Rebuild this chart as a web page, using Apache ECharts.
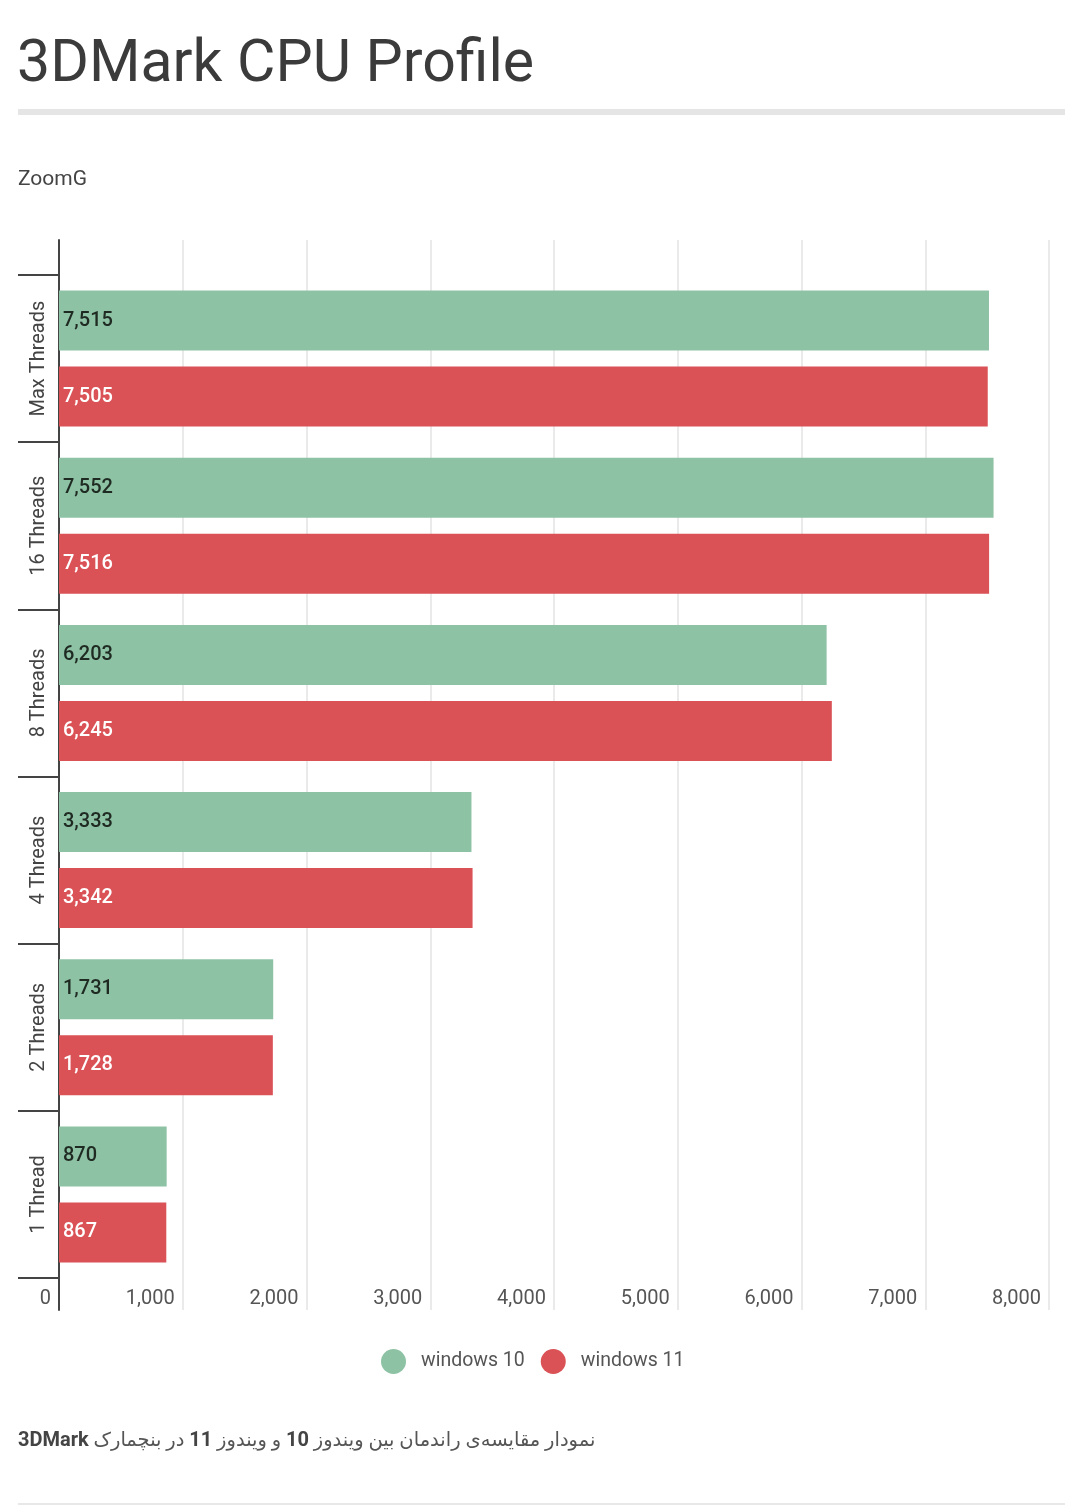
<!DOCTYPE html>
<html>
<head>
<meta charset="utf-8">
<script src="https://cdn.jsdelivr.net/npm/echarts@6/dist/echarts.min.js"></script>
<style>
html,body{margin:0;padding:0;background:#fff;}
#chart{width:1080px;height:1512px;}
</style>
</head>
<body>
<div id="chart"></div>
<script>
var categories = ['Max Threads', '16 Threads', '8 Threads', '4 Threads', '2 Threads', '1 Thread'];
var windows10 = [7515, 7552, 6203, 3333, 1731, 870];
var windows11 = [7505, 7516, 6245, 3342, 1728, 867];
var seriesNames = ['windows 10', 'windows 11'];
var xTicks = [0, 1000, 2000, 3000, 4000, 5000, 6000, 7000, 8000];

var FONT = "Roboto, 'DejaVu Sans', sans-serif";
var GREEN = '#8ec2a4';
var RED = '#da5156';

var chart = echarts.init(document.getElementById('chart'), null, {renderer: 'canvas'});
function fmt(v){ return Number(v).toLocaleString('en-US'); }

var option = {
  backgroundColor: '#ffffff',
  textStyle: {fontFamily: FONT},
  title: [
    {text: '3DMark CPU Profile', left: 12, top: 32,
     textStyle: {fontFamily: FONT, fontSize: 59, fontWeight: 'normal', color: '#3b3b3b'}},
    {text: 'ZoomG', left: 13, top: 164,
     textStyle: {fontFamily: FONT, fontSize: 21, fontWeight: 'normal', color: '#444'}},
    {text: '{b|3DMark}{n| در بنچمارک }{b|11}{n| و ویندوز }{b|10}{n| نمودار مقایسه‌ی راندمان بین ویندوز}',
     left: 13, top: 1426,
     textStyle: {
       fontFamily: FONT, fontSize: 20, color: '#444',
       rich: {
         b: {fontFamily: FONT, fontSize: 20, fontWeight: 'bold', color: '#444'},
         n: {fontFamily: FONT, fontSize: 19.5, fontWeight: 'normal', color: '#555'}
       }
     }}
  ],
  graphic: [
    {type: 'rect', left: 18, top: 109, shape: {width: 1047, height: 6}, style: {fill: '#e5e5e5'}, silent: true},
    {type: 'rect', left: 18, top: 1503, shape: {width: 1047, height: 2}, style: {fill: '#e8e8e8'}, silent: true}
  ],
  legend: {
    data: seriesNames,
    left: 376, top: 1344,
    icon: 'circle', itemWidth: 25, itemHeight: 25, itemGap: 16,
    textStyle: {fontFamily: FONT, fontSize: 19.5, color: '#555', padding: [0, 0, 0, 10]}
  },
  grid: [
    {left: 59, right: 31, top: 240, bottom: 202},
    {left: 59, right: 31, top: 275, bottom: 234}
  ],
  xAxis: [
    {type: 'value', gridIndex: 0, min: 0, max: 8000, interval: 1000,
     axisLine: {show: false}, axisTick: {show: false}, axisLabel: {show: false},
     splitLine: {show: true, lineStyle: {color: '#e3e3e3', width: 1.5}}},
    {type: 'value', gridIndex: 1, min: 0, max: 8000, interval: 1000,
     axisLine: {show: false}, axisTick: {show: false}, splitLine: {show: false},
     axisLabel: {show: true, align: 'right', margin: 11, padding: [0, 8, 0, 0],
       fontFamily: FONT, fontSize: 20, color: '#555',
       formatter: function (v) { return xTicks.indexOf(v) >= 0 ? fmt(v) : ''; }}}
  ],
  yAxis: [
    {type: 'value', gridIndex: 0, min: 0, max: 1,
     axisLine: {show: true, lineStyle: {color: '#444', width: 2}},
     axisTick: {show: false}, axisLabel: {show: false}, splitLine: {show: false}},
    {type: 'category', gridIndex: 1, data: categories, inverse: true,
     axisLine: {show: false},
     axisTick: {show: true, length: 41, lineStyle: {color: '#444', width: 2}},
     splitLine: {show: false},
     axisLabel: {show: true, rotate: 90, margin: 10, fontFamily: FONT, fontSize: 20, color: '#444'}}
  ],
  series: [
    {name: seriesNames[0], type: 'bar', xAxisIndex: 1, yAxisIndex: 1, data: windows10,
     barWidth: 60, barGap: '26.7%',
     itemStyle: {color: GREEN},
     label: {show: true, position: 'insideLeft', distance: 4, formatter: function (p) { return fmt(p.value); },
       fontFamily: FONT, fontSize: 20, fontWeight: 500, color: '#1f2a22'}},
    {name: seriesNames[1], type: 'bar', xAxisIndex: 1, yAxisIndex: 1, data: windows11,
     barWidth: 60, barGap: '26.7%',
     itemStyle: {color: RED},
     label: {show: true, position: 'insideLeft', distance: 4, formatter: function (p) { return fmt(p.value); },
       fontFamily: FONT, fontSize: 20, fontWeight: 500, color: '#ffffff'}}
  ]
};
chart.setOption(option);
</script>
</body>
</html>
